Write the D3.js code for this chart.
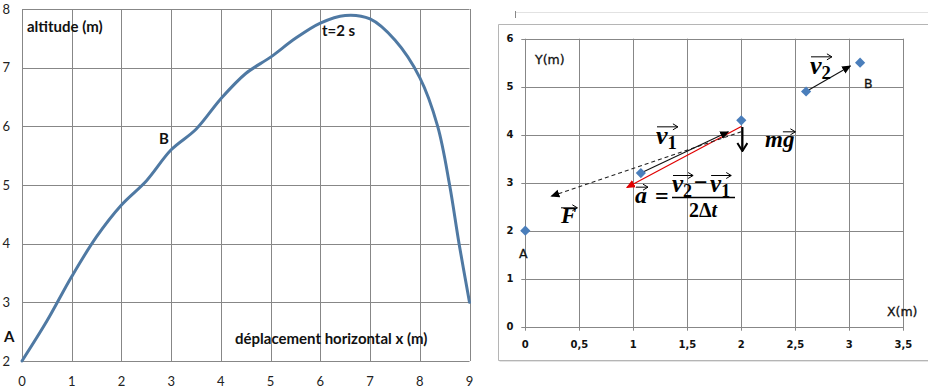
<!DOCTYPE html>
<html>
<head>
<meta charset="utf-8">
<script src="https://cdn.jsdelivr.net/npm/d3@7"></script>
<style>
  body { margin: 0; background: #fff; }
  svg { display: block; }
</style>
</head>
<body>
<svg id="chart" width="928" height="389"></svg>
<script>
// left chart: trajectory altitude vs horizontal displacement
const trajX = [0, 0.5, 1, 1.5, 2, 2.5, 3, 3.5, 4, 4.5, 5, 5.5, 6, 6.5, 7, 7.5, 8, 8.36, 8.6, 8.79, 9];
const trajY = [2, 2.68, 3.44, 4.12, 4.66, 5.07, 5.6, 5.95, 6.47, 6.9, 7.18, 7.5, 7.76, 7.89, 7.83, 7.47, 6.83, 6, 5, 4, 3];
const leftXTicks = [0, 1, 2, 3, 4, 5, 6, 7, 8, 9];
const leftYTicks = [2, 3, 4, 5, 6, 7, 8];

// right chart: recorded positions
const posX = [0, 1.07, 2, 2.6, 3.1];
const posY = [2, 3.2, 4.3, 4.9, 5.5];
const rightXTicks = [0, 0.5, 1, 1.5, 2, 2.5, 3, 3.5];
const rightXLabels = ["0", "0,5", "1", "1,5", "2", "2,5", "3", "3,5"];
const rightYTicks = [0, 1, 2, 3, 4, 5, 6];

// vectors as [x0, y0, x1, y1] in data units
const vecV1 = [1.07, 3.2, 1.88, 4.06];
const vecV2 = [2.6, 4.9, 3.01, 5.43];
const vecA = [2.0, 4.17, 0.94, 2.9];
const vecF = [2.0, 4.06, 0.24, 2.72];
const vecMg = [2.01, 4.16, 2.01, 3.66];

const svg = d3.select("#chart");
const gridColor = "#878787";

// ---------- left chart ----------
const lx = d3.scaleLinear().domain([0, 9]).range([22, 469.5]);
const ly = d3.scaleLinear().domain([2, 8]).range([361, 9]);
const left = svg.append("g");

left.append("g")
    .selectAll("line")
    .data(leftXTicks)
    .join("line")
    .attr("x1", d => Math.round(lx(d)) + 0.5)
    .attr("x2", d => Math.round(lx(d)) + 0.5)
    .attr("y1", ly(8))
    .attr("y2", ly(2))
    .attr("stroke", gridColor);

left.append("g")
    .selectAll("line")
    .data(leftYTicks)
    .join("line")
    .attr("x1", lx(0))
    .attr("x2", lx(9))
    .attr("y1", d => Math.round(ly(d)) + 0.5)
    .attr("y2", d => Math.round(ly(d)) + 0.5)
    .attr("stroke", gridColor);

left.append("g")
    .style("font", "13px Lato, sans-serif")
    .attr("fill", "#222")
    .selectAll("text")
    .data(leftYTicks)
    .join("text")
    .attr("x", 10)
    .attr("y", d => ly(d))
    .attr("dy", "0.35em")
    .attr("text-anchor", "end")
    .text(d => d);

left.append("g")
    .style("font", "13px Lato, sans-serif")
    .attr("fill", "#222")
    .selectAll("text")
    .data(leftXTicks)
    .join("text")
    .attr("x", d => lx(d))
    .attr("y", 381)
    .attr("dy", "0.35em")
    .attr("text-anchor", "middle")
    .text(d => d);

const line = d3.line()
    .x((d, i) => lx(trajX[i]))
    .y(d => ly(d))
    .curve(d3.curveCatmullRom.alpha(0.5));

left.append("path")
    .datum(trajY)
    .attr("d", line)
    .attr("fill", "none")
    .attr("stroke", "#4f79a3")
    .attr("stroke-width", 3)
    .attr("stroke-linecap", "round");

const leftLabels = [
    { t: "altitude (m)", x: 27, y: 32 },
    { t: "t=2 s", x: 322, y: 36 },
    { t: "B", x: 159, y: 144 },
    { t: "A", x: 4, y: 342 },
    { t: "déplacement horizontal x (m)", x: 235, y: 344 }
];
left.append("g")
    .style("font", "bold 15px Lato, sans-serif")
    .attr("fill", "#111")
    .selectAll("text")
    .data(leftLabels)
    .join("text")
    .attr("x", d => d.x)
    .attr("y", d => d.y)
    .text(d => d.t);

// ---------- right chart ----------
const rx = d3.scaleLinear().domain([0, 3.5]).range([525.3, 903.3]);
const ry = d3.scaleLinear().domain([0, 6]).range([326.7, 38.7]);
const right = svg.append("g");

// chart area frame
right.append("line").attr("x1", 515.5).attr("x2", 928).attr("y1", 12.5).attr("y2", 12.5).attr("stroke", "#e2e2e2");
right.append("line").attr("x1", 515.5).attr("x2", 515.5).attr("y1", 11).attr("y2", 18).attr("stroke", "#888");
right.append("path")
    .attr("d", "M928,24.5H498.5V360.5H928")
    .attr("fill", "none")
    .attr("stroke", "#b5b5b5");
right.append("path")
    .attr("d", "M499.5,361.5H928")
    .attr("fill", "none")
    .attr("stroke", "#e4e4e4");

right.append("g")
    .selectAll("line")
    .data(rightXTicks)
    .join("line")
    .attr("x1", d => Math.round(rx(d)) + 0.5)
    .attr("x2", d => Math.round(rx(d)) + 0.5)
    .attr("y1", ry(6))
    .attr("y2", ry(0) + 4)
    .attr("stroke", gridColor);

right.append("g")
    .selectAll("line")
    .data(rightYTicks)
    .join("line")
    .attr("x1", rx(0) - 4)
    .attr("x2", rx(3.5))
    .attr("y1", d => Math.round(ry(d)) + 0.5)
    .attr("y2", d => Math.round(ry(d)) + 0.5)
    .attr("stroke", gridColor);

right.append("g")
    .style("font", "bold 10px 'DejaVu Sans', sans-serif")
    .attr("fill", "#111")
    .selectAll("text")
    .data(rightYTicks)
    .join("text")
    .attr("x", 510)
    .attr("y", d => ry(d))
    .attr("dy", "0.35em")
    .attr("text-anchor", "middle")
    .text(d => d);

right.append("g")
    .style("font", "bold 10px 'DejaVu Sans', sans-serif")
    .attr("fill", "#111")
    .selectAll("text")
    .data(rightXTicks)
    .join("text")
    .attr("x", d => rx(d))
    .attr("y", 348)
    .attr("text-anchor", "middle")
    .text((d, i) => rightXLabels[i]);

const rightLabels = [
    { t: "Y(m)", x: 535, y: 64 },
    { t: "X(m)", x: 887, y: 316 },
    { t: "A", x: 519, y: 258 },
    { t: "B", x: 864, y: 88 }
];
right.append("g")
    .style("font", "12.5px 'DejaVu Sans', sans-serif")
    .style("stroke", "#111")
    .style("stroke-width", 0.3)
    .attr("fill", "#111")
    .selectAll("text")
    .data(rightLabels)
    .join("text")
    .attr("x", d => d.x)
    .attr("y", d => d.y)
    .text(d => d.t);

// arrowheads
const defs = svg.append("defs");
[["head-black", "#000"], ["head-red", "#e00000"]].forEach(([id, c]) => {
    defs.append("marker")
        .attr("id", id)
        .attr("viewBox", "0 -5 10 10")
        .attr("refX", 9)
        .attr("refY", 0)
        .attr("markerWidth", 9)
        .attr("markerHeight", 9)
        .attr("markerUnits", "userSpaceOnUse")
        .attr("orient", "auto")
        .append("path")
        .attr("d", "M0,-4.5L10,0L0,4.5Z")
        .attr("fill", c);
});
defs.append("marker")
    .attr("id", "head-open")
    .attr("viewBox", "0 -6 10 12")
    .attr("refX", 9)
    .attr("refY", 0)
    .attr("markerWidth", 10)
    .attr("markerHeight", 12)
    .attr("markerUnits", "userSpaceOnUse")
    .attr("orient", "auto")
    .append("path")
    .attr("d", "M1,-5L9,0L1,5")
    .attr("fill", "none")
    .attr("stroke", "#000")
    .attr("stroke-width", 2);

const vectors = [
    { v: vecA, color: "#e00000", width: 1.2, dash: null, head: "head-red" },
    { v: vecF, color: "#222", width: 1.1, dash: "4,3", head: "head-black" },
    { v: vecV1, color: "#111", width: 1.1, dash: null, head: "head-black" },
    { v: vecV2, color: "#111", width: 1.1, dash: null, head: "head-black" },
    { v: vecMg, color: "#000", width: 2.2, dash: null, head: "head-open" }
];
right.append("g")
    .selectAll("line")
    .data(vectors)
    .join("line")
    .attr("x1", d => rx(d.v[0]))
    .attr("y1", d => ry(d.v[1]))
    .attr("x2", d => rx(d.v[2]))
    .attr("y2", d => ry(d.v[3]))
    .attr("stroke", d => d.color)
    .attr("stroke-width", d => d.width)
    .attr("stroke-dasharray", d => d.dash)
    .attr("marker-end", d => `url(#${d.head})`);

right.append("g")
    .selectAll("path")
    .data(posX)
    .join("path")
    .attr("d", d3.symbol(d3.symbolSquare, 52))
    .attr("transform", (d, i) => `translate(${rx(d)},${ry(posY[i])}) rotate(45)`)
    .attr("fill", "#4a7ebb");

// math labels with vector arrows
const mathFont = "'Liberation Serif', 'DejaVu Serif', serif";
const math = right.append("g").attr("fill", "#000");

function overArrow(x1, x2, y) {
    math.append("path")
        .attr("d", `M${x1},${y}H${x2} M${x2 - 5},${y - 3}L${x2},${y}L${x2 - 5},${y + 3}`)
        .attr("fill", "none")
        .attr("stroke", "#000")
        .attr("stroke-width", 1);
}

function vecSymbol(x, y, letter, sub, size) {
    const t = math.append("text")
        .attr("x", x)
        .attr("y", y)
        .style("font-family", mathFont)
        .style("font-size", size + "px")
        .style("font-weight", "bold");
    t.append("tspan").style("font-style", "italic").text(letter);
    if (sub) {
        t.append("tspan")
            .attr("dy", size * 0.2)
            .style("font-size", (size * 0.72) + "px")
            .text(sub);
    }
    const b = t.node().getBBox();
    overArrow(b.x + 1, b.x + b.width + 1, y - size * 0.66);
    return b;
}

vecSymbol(656, 144, "v", "1", 26);
vecSymbol(810, 74, "v", "2", 26);
vecSymbol(561, 223, "F", null, 23);

// m g with arrow over g
const mt = math.append("text")
    .attr("x", 765)
    .attr("y", 147)
    .style("font-family", mathFont)
    .style("font-size", "23px")
    .style("font-weight", "bold")
    .style("font-style", "italic")
    .text("m");
const mb = mt.node().getBBox();
vecSymbol(mb.x + mb.width, 147, "g", null, 23);

// acceleration formula
vecSymbol(635, 203, "a", null, 24);
math.append("text")
    .attr("x", 655)
    .attr("y", 204)
    .style("font-family", mathFont)
    .style("font-size", "24px")
    .style("font-weight", "bold")
    .text("=");
const n1 = vecSymbol(672, 192, "v", "2", 25);
math.append("text")
    .attr("x", n1.x + n1.width + 2)
    .attr("y", 190)
    .style("font-family", mathFont)
    .style("font-size", "24px")
    .style("font-weight", "bold")
    .text("\u2212");
vecSymbol(n1.x + n1.width + 18, 192, "v", "1", 25);
math.append("line")
    .attr("x1", 672)
    .attr("x2", 735)
    .attr("y1", 197.5)
    .attr("y2", 197.5)
    .attr("stroke", "#000")
    .attr("stroke-width", 1.4);
const den = math.append("text")
    .attr("x", 703)
    .attr("y", 217)
    .attr("text-anchor", "middle")
    .style("font-family", mathFont)
    .style("font-size", "20px")
    .style("font-weight", "bold");
den.append("tspan").text("2\u0394");
den.append("tspan").style("font-style", "italic").text("t");
</script>
</body>
</html>
